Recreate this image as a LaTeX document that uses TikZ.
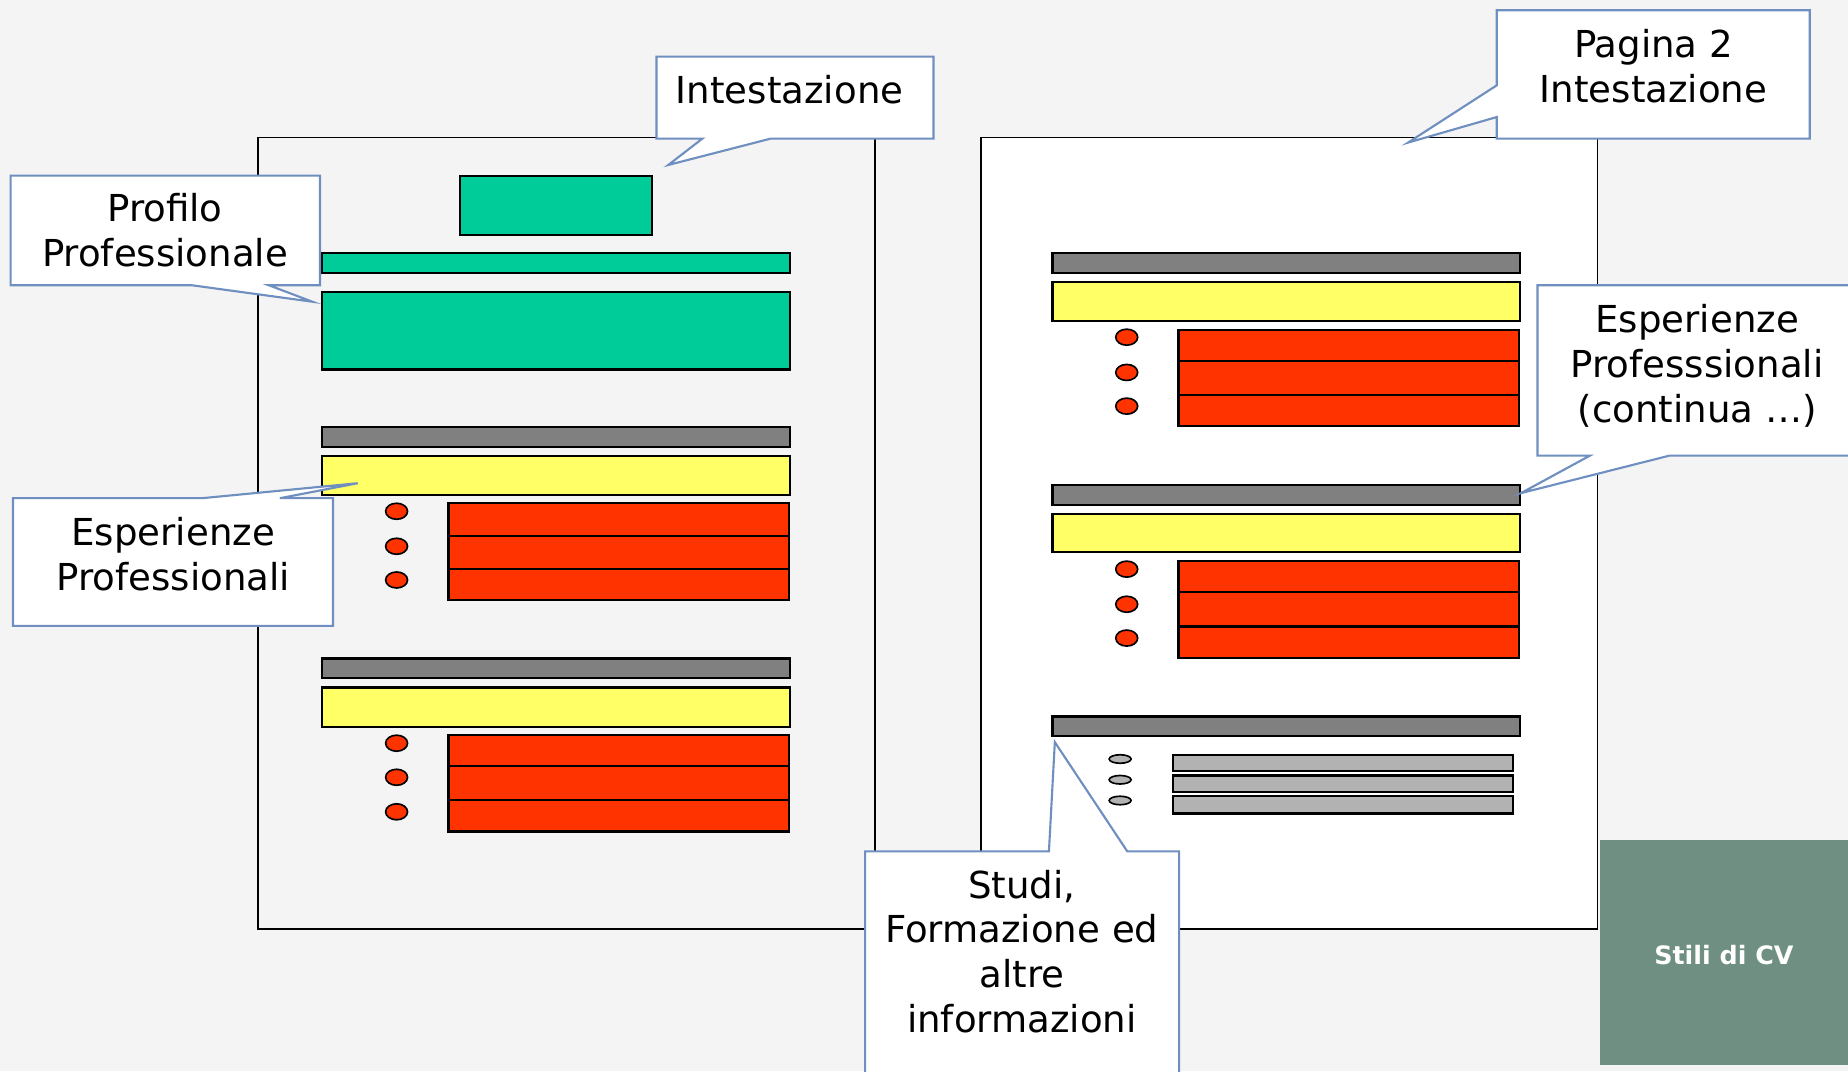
\documentclass[tikz,border=0pt]{standalone}
\usepackage{fontspec}
\setmainfont{DejaVu Sans}
\definecolor{bgc}{HTML}{F4F4F4}
\definecolor{grn}{HTML}{00CC99}
\definecolor{ylw}{HTML}{FFFF66}
\definecolor{rdc}{HTML}{FF3300}
\definecolor{gry}{HTML}{808080}
\definecolor{lgry}{HTML}{B2B2B2}
\definecolor{cbord}{HTML}{6F8FC0}
\definecolor{stili}{HTML}{6E8F81}
\tikzset{
  pageframe/.style={draw=black, line width=1.5pt},
  bar/.style={draw=black, line width=1.9pt},
  dot/.style={draw=black, line width=1.4pt, fill=rdc},
  sdot/.style={draw=black, line width=1.4pt, fill=lgry},
  callout/.style={draw=cbord, fill=white, line width=1.8pt, line join=miter},
  ctext/.style={align=center, inner sep=0pt, font=\fontsize{31.5}{38}\selectfont},
}
\begin{document}
\begin{tikzpicture}[x=1pt,y=-1pt]
\useasboundingbox (0,0) rectangle (1568,909);
\clip (0,0) rectangle (1568,909);
\fill[bgc] (0,0) rectangle (1568,909);

% pages
\draw[pageframe, fill=bgc] (219,116.7) rectangle (742.5,788.4);
\draw[pageframe, fill=white] (832.5,116.7) rectangle (1355.5,788.4);

% ---- left page content
\draw[bar, fill=grn] (390.5,149.1) rectangle (553.5,199.2);
\draw[bar, fill=grn] (273,214.8) rectangle (670.5,231.7);
\draw[bar, fill=grn] (273,247.9) rectangle (670.5,313.6);
% group 1
\draw[bar, fill=gry] (273,362.3) rectangle (670.5,379.1);
\draw[bar, fill=ylw] (273,387.2) rectangle (670.5,419.9);
\draw[bar, fill=rdc] (380.5,426.6) rectangle (669.5,454.6);
\draw[bar, fill=rdc] (380.5,454.6) rectangle (669.5,482.6);
\draw[bar, fill=rdc] (380.5,482.6) rectangle (669.5,508.9);
\foreach \yy in {433.8,463.5,492.1} \draw[dot] (336.5,\yy) ellipse [x radius=9.3, y radius=6.8];
% group 2
\draw[bar, fill=gry] (273,558.7) rectangle (670.5,575.5);
\draw[bar, fill=ylw] (273,583.4) rectangle (670.5,616.7);
\draw[bar, fill=rdc] (380.5,623.4) rectangle (669.5,650);
\draw[bar, fill=rdc] (380.5,650) rectangle (669.5,679);
\draw[bar, fill=rdc] (380.5,679) rectangle (669.5,705.6);
\foreach \yy in {630.6,659.5,688.8} \draw[dot] (336.5,\yy) ellipse [x radius=9.3, y radius=6.8];

% ---- right page content
\draw[bar, fill=gry] (893,214.8) rectangle (1290,231.7);
\draw[bar, fill=ylw] (893,239.5) rectangle (1290,272.5);
\draw[bar, fill=rdc] (1000,279.7) rectangle (1289,306.1);
\draw[bar, fill=rdc] (1000,306.1) rectangle (1289,335.3);
\draw[bar, fill=rdc] (1000,335.3) rectangle (1289,361.7);
\foreach \yy in {286.1,316,344.6} \draw[dot] (956,\yy) ellipse [x radius=9.3, y radius=6.8];

\draw[bar, fill=gry] (893,411.8) rectangle (1290,428.3);
\draw[bar, fill=ylw] (893,436.1) rectangle (1290,468.4);
\draw[bar, fill=rdc] (1000,476.2) rectangle (1289,502.6);
\draw[bar, fill=rdc] (1000,502.6) rectangle (1289,531.6);
\draw[bar, fill=rdc] (1000,531.6) rectangle (1289,558.2);
\foreach \yy in {482.9,512.7,541.4} \draw[dot] (956,\yy) ellipse [x radius=9.3, y radius=6.8];

\draw[bar, fill=gry] (893,608) rectangle (1290,624.8);
\draw[bar, fill=lgry] (995,640.6) rectangle (1284,654.3);
\draw[bar, fill=lgry] (995,658) rectangle (1284,672.3);
\draw[bar, fill=lgry] (995,675.7) rectangle (1284,690.2);
\foreach \yy in {644,661.6,679.2} \draw[sdot] (950.4,\yy) ellipse [x radius=9.3, y radius=3.6];

% ---- callouts
\draw[callout] (557,48) -- (792,48) -- (792,117.6) -- (654,117.6) -- (567,140) -- (596,117.6) -- (557,117.6) -- cycle;
\node[ctext] (intest) at (670,76) {Intestazione};

\draw[callout] (9,149) -- (271.5,149) -- (271.5,242) -- (228,242) -- (265,256) -- (162.5,242) -- (9,242) -- cycle;
\node[ctext] (profilo) at (140,195.5) {Profilo\\Professionale};

\draw[callout] (11,422.7) -- (171.5,422.7) -- (303.5,410) -- (237.5,422.7) -- (282.5,422.7) -- (282.5,531) -- (11,531) -- cycle;
\node[ctext] (esper) at (147,470) {Esperienze\\Professionali};

\draw[callout] (1270,8.7) -- (1535.5,8.7) -- (1535.5,117.6) -- (1270,117.6) -- (1270,99.3) -- (1194.7,121) -- (1270,72.4) -- cycle;
\node[ctext] (pag2) at (1403,56.2) {Pagina 2\\Intestazione};

\draw[callout] (1304.5,242) -- (1590,242) -- (1590,386.6) -- (1416.5,386.6) -- (1290.5,418.4) -- (1349,386.6) -- (1304.5,386.6) -- cycle;
\node[ctext] (contin) at (1440,310.6) {Esperienze\\Professsionali\\(continua …)};

\draw[callout] (734,722.4) -- (890,722.4) -- (895,629.7) -- (956.5,722.4) -- (1000.5,722.4) -- (1000.5,930) -- (734,930) -- cycle;
\node[ctext] (studi) at (867,807.3) {Studi,\\Formazione ed\\altre\\informazioni};

% ---- Stili di CV
\fill[stili] (1357.5,713) rectangle (1590,904);
\node[inner sep=0pt, text=white, font=\bfseries\fontsize{21.5}{26}\selectfont] (stilicv) at (1462.7,810.1) {Stili di CV};
\end{tikzpicture}
\end{document}
